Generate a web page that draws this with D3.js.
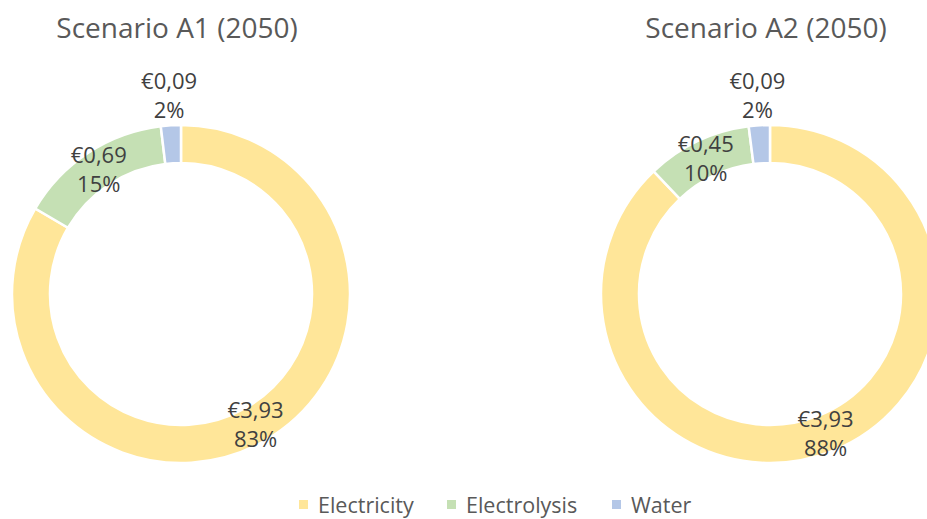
<!DOCTYPE html>
<html>
<head>
<meta charset="utf-8">
<script src="https://cdn.jsdelivr.net/npm/d3@7"></script>
<style>
  body { margin: 0; background: #fff; }
  svg { display: block; font-family: "Open Sans", sans-serif; }
</style>
</head>
<body>
<svg id="chart" width="927" height="519"></svg>
<script>
// chart data
var categories = ["Electricity", "Electrolysis", "Water"];
var colors = ["#FFE699", "#C5E0B4", "#B4C7E7"];
var scenarios = ["Scenario A1 (2050)", "Scenario A2 (2050)"];
var valuesA1 = [3.93, 0.69, 0.09];
var valuesA2 = [3.93, 0.45, 0.09];

var svg = d3.select('#chart');
var outerR = 169, innerR = 131;
var centers = [[181, 294], [770, 294]];

var color = d3.scaleOrdinal().domain(categories).range(colors);
var pie = d3.pie().sort(null).value(function(d) { return d.value; });
var arc = d3.arc().innerRadius(innerR).outerRadius(outerR);

function fmtEuro(v) {
    return '€' + v.toFixed(2).replace('.', ',');
}

function drawDonut(title, values, c) {
    var total = d3.sum(values);
    var data = values.map(function(v, i) {
        return { cat: categories[i], value: v };
    });
    var g = svg.append('g').attr('transform', 'translate(' + c[0] + ',' + c[1] + ')');

    g.selectAll('path')
        .data(pie(data)).enter()
        .append('path')
        .attr('d', arc)
        .attr('fill', function(d) { return color(d.data.cat); })
        .attr('stroke', '#fff')
        .attr('stroke-width', 2.5);

    // labels: middle of ring, small slices pushed outside
    var labels = g.selectAll('text.lbl')
        .data(pie(data)).enter()
        .append('text')
        .attr('class', 'lbl')
        .attr('text-anchor', 'middle')
        .attr('font-size', 22)
        .attr('fill', '#404040')
        .attr('transform', function(d) {
            var a = (d.startAngle + d.endAngle) / 2;
            var r = (d.endAngle - d.startAngle) < 0.3 ? outerR + 30 : (innerR + outerR) / 2;
            return 'translate(' + (r * Math.sin(a)) + ',' + (-r * Math.cos(a)) + ')';
        });
    labels.append('tspan')
        .attr('x', 0).attr('y', -6)
        .text(function(d) { return fmtEuro(d.data.value); });
    labels.append('tspan')
        .attr('x', 0).attr('y', 23)
        .text(function(d) { return Math.round(d.data.value / total * 100) + '%'; });

    svg.append('text')
        .attr('x', c[0] - 4)
        .attr('y', 38)
        .attr('text-anchor', 'middle')
        .attr('font-size', 28)
        .attr('fill', '#595959')
        .text(title);
}

drawDonut(scenarios[0], valuesA1, centers[0]);
drawDonut(scenarios[1], valuesA2, centers[1]);

// legend
var legendX = [299, 447, 612];
var legend = svg.selectAll('g.legend')
    .data(categories).enter()
    .append('g')
    .attr('class', 'legend')
    .attr('transform', function(d, i) { return 'translate(' + legendX[i] + ',505)'; });
legend.append('rect')
    .attr('x', 0).attr('y', -5)
    .attr('width', 9).attr('height', 9)
    .attr('fill', function(d) { return color(d); });
legend.append('text')
    .attr('x', 19).attr('y', 8)
    .attr('font-size', 21.5)
    .attr('fill', '#595959')
    .text(function(d) { return d; });
</script>
</body>
</html>
